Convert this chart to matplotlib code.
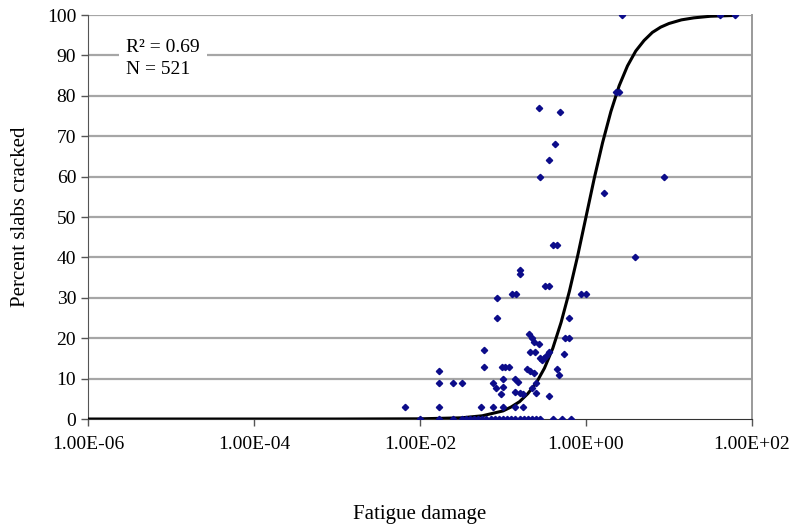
import numpy as np
from matplotlib import pyplot as plt

# Scatter points: log10(fatigue damage) and percent cracked
log_damage = [
    -0.56, -0.31, -0.37, -0.45, -0.55,
    -0.40, -0.35, -0.80, -0.79, -0.49, -0.44,
    -0.89, -0.84, -0.06, 0.00, -1.07, -1.07, -0.21, -0.21,
    0.44, 1.61, 1.79, 0.36, 0.40, 0.94, 0.22, 0.59,
    -0.69, -0.65, -0.63, -0.57, -0.67, -0.62, -0.44, -0.25, -0.26,
    -0.55, -0.53, -0.51, -0.48, -1.23, -1.23,
    -1.01, -0.97, -0.93, -0.71, -0.67, -0.63, -0.35, -0.32,
    -0.86, -0.82, -1.00, -0.60, -0.65, -1.00, -1.12, -1.08,
    -0.86, -0.80, -0.76, -0.60, -0.44, -1.02,
    -1.77, -1.77, -1.60, -1.49,
    -2.18, -1.77, -1.26, -1.12, -1.00, -0.86, -0.76,
    -2.00, -1.77, -1.60, -1.49, -1.45, -1.40, -1.35, -1.30, -1.25,
    -1.20, -1.15, -1.10, -1.05, -1.00, -0.95, -0.90, -0.85, -0.80,
    -0.75, -0.70, -0.65, -0.60, -0.55, -0.40, -0.29, -0.18,
]
pct_cracked = [
    77, 76, 68, 64, 60,
    43, 43, 37, 36, 33, 33,
    31, 31, 31, 31, 30, 25, 25, 20,
    100, 100, 100, 81, 81, 60, 56, 40,
    21, 20, 19, 18.5, 16.5, 16.5, 16.5, 20, 16,
    15, 14.6, 15, 15.5, 17, 13,
    13, 13, 13, 12.3, 11.9, 11.3, 12.5, 11,
    10, 9.2, 10, 8.8, 7.6, 8, 9, 7.8,
    6.8, 6.4, 6.2, 6.5, 5.7, 6.2,
    12, 9, 9, 9,
    3, 3, 3, 3, 3, 3, 3,
    0, 0, 0, 0, 0, 0, 0, 0, 0,
    0, 0, 0, 0, 0, 0, 0, 0, 0,
    0, 0, 0, 0, 0, 0, 0, 0,
]

# Fitted curve
curve_log = [-6.0, -4.0, -3.0, -2.0, -1.5, -1.25, -1.0, -0.9, -0.8, -0.7, -0.6,
             -0.5, -0.4, -0.3, -0.2, -0.1, 0.0, 0.1, 0.2, 0.3, 0.4, 0.5, 0.6,
             0.7, 0.8, 0.9, 1.0, 1.15, 1.3, 1.5, 1.8]
curve_pct = [0.0, 0.0, 0.0, 0.05, 0.3, 0.8, 2.0, 3.0, 4.3, 6.3, 8.9,
             12.6, 17.5, 23.9, 31.6, 40.4, 50.0, 59.6, 68.4, 76.1, 82.5, 87.4, 91.1,
             93.7, 95.7, 97.0, 97.9, 98.8, 99.3, 99.7, 99.9]

x_ticks = [1e-6, 1e-4, 1e-2, 1e0, 1e2]
x_ticklabels = ['1.00E-06', '1.00E-04', '1.00E-02', '1.00E+00', '1.00E+02']

plt.rcParams['font.family'] = ['Liberation Serif', 'DejaVu Serif']

fig = plt.figure(figsize=(7.97, 5.29), dpi=100)
ax = fig.add_axes([0.1104, 0.2079, 0.8331, 0.7637])

ax.set_xscale('log')
ax.set_xlim(1e-6, 1e2)
ax.set_ylim(0, 100)

for yv in range(10, 101, 10):
    ax.axhline(yv, color='#a6a6a6', lw=1.6, zorder=0)

ax.plot(10 ** np.array(curve_log), curve_pct, color='black', lw=2.2, zorder=3)
ax.plot(10 ** np.array(log_damage), pct_cracked, linestyle='none', marker='D',
        markersize=3.2, color='#0c0c8a', zorder=4)

ax.set_xticks(x_ticks)
ax.set_xticklabels(x_ticklabels)
ax.xaxis.set_minor_locator(plt.NullLocator())
ax.set_yticks(range(0, 101, 10))
ax.tick_params(axis='both', labelsize=14, direction='out', length=5,
               color='#555555', width=1)
ax.tick_params(axis='x', pad=7)

ax.spines['top'].set_visible(False)
ax.spines['right'].set_color('#9a9a9a')
ax.spines['right'].set_linewidth(1.4)
ax.spines['left'].set_color('#555555')
ax.spines['bottom'].set_color('#333333')

ax.set_xlabel('Fatigue damage', fontsize=15, labelpad=38)
ax.set_ylabel('Percent slabs cracked', fontsize=15, labelpad=12)

ax.text(2.9e-6, 89.2, 'R² = 0.69\nN = 521', fontsize=14, va='center',
        ha='left', linespacing=1.35,
        bbox=dict(facecolor='white', edgecolor='none', pad=5), zorder=5)

fig.savefig('out.png', dpi=100)
